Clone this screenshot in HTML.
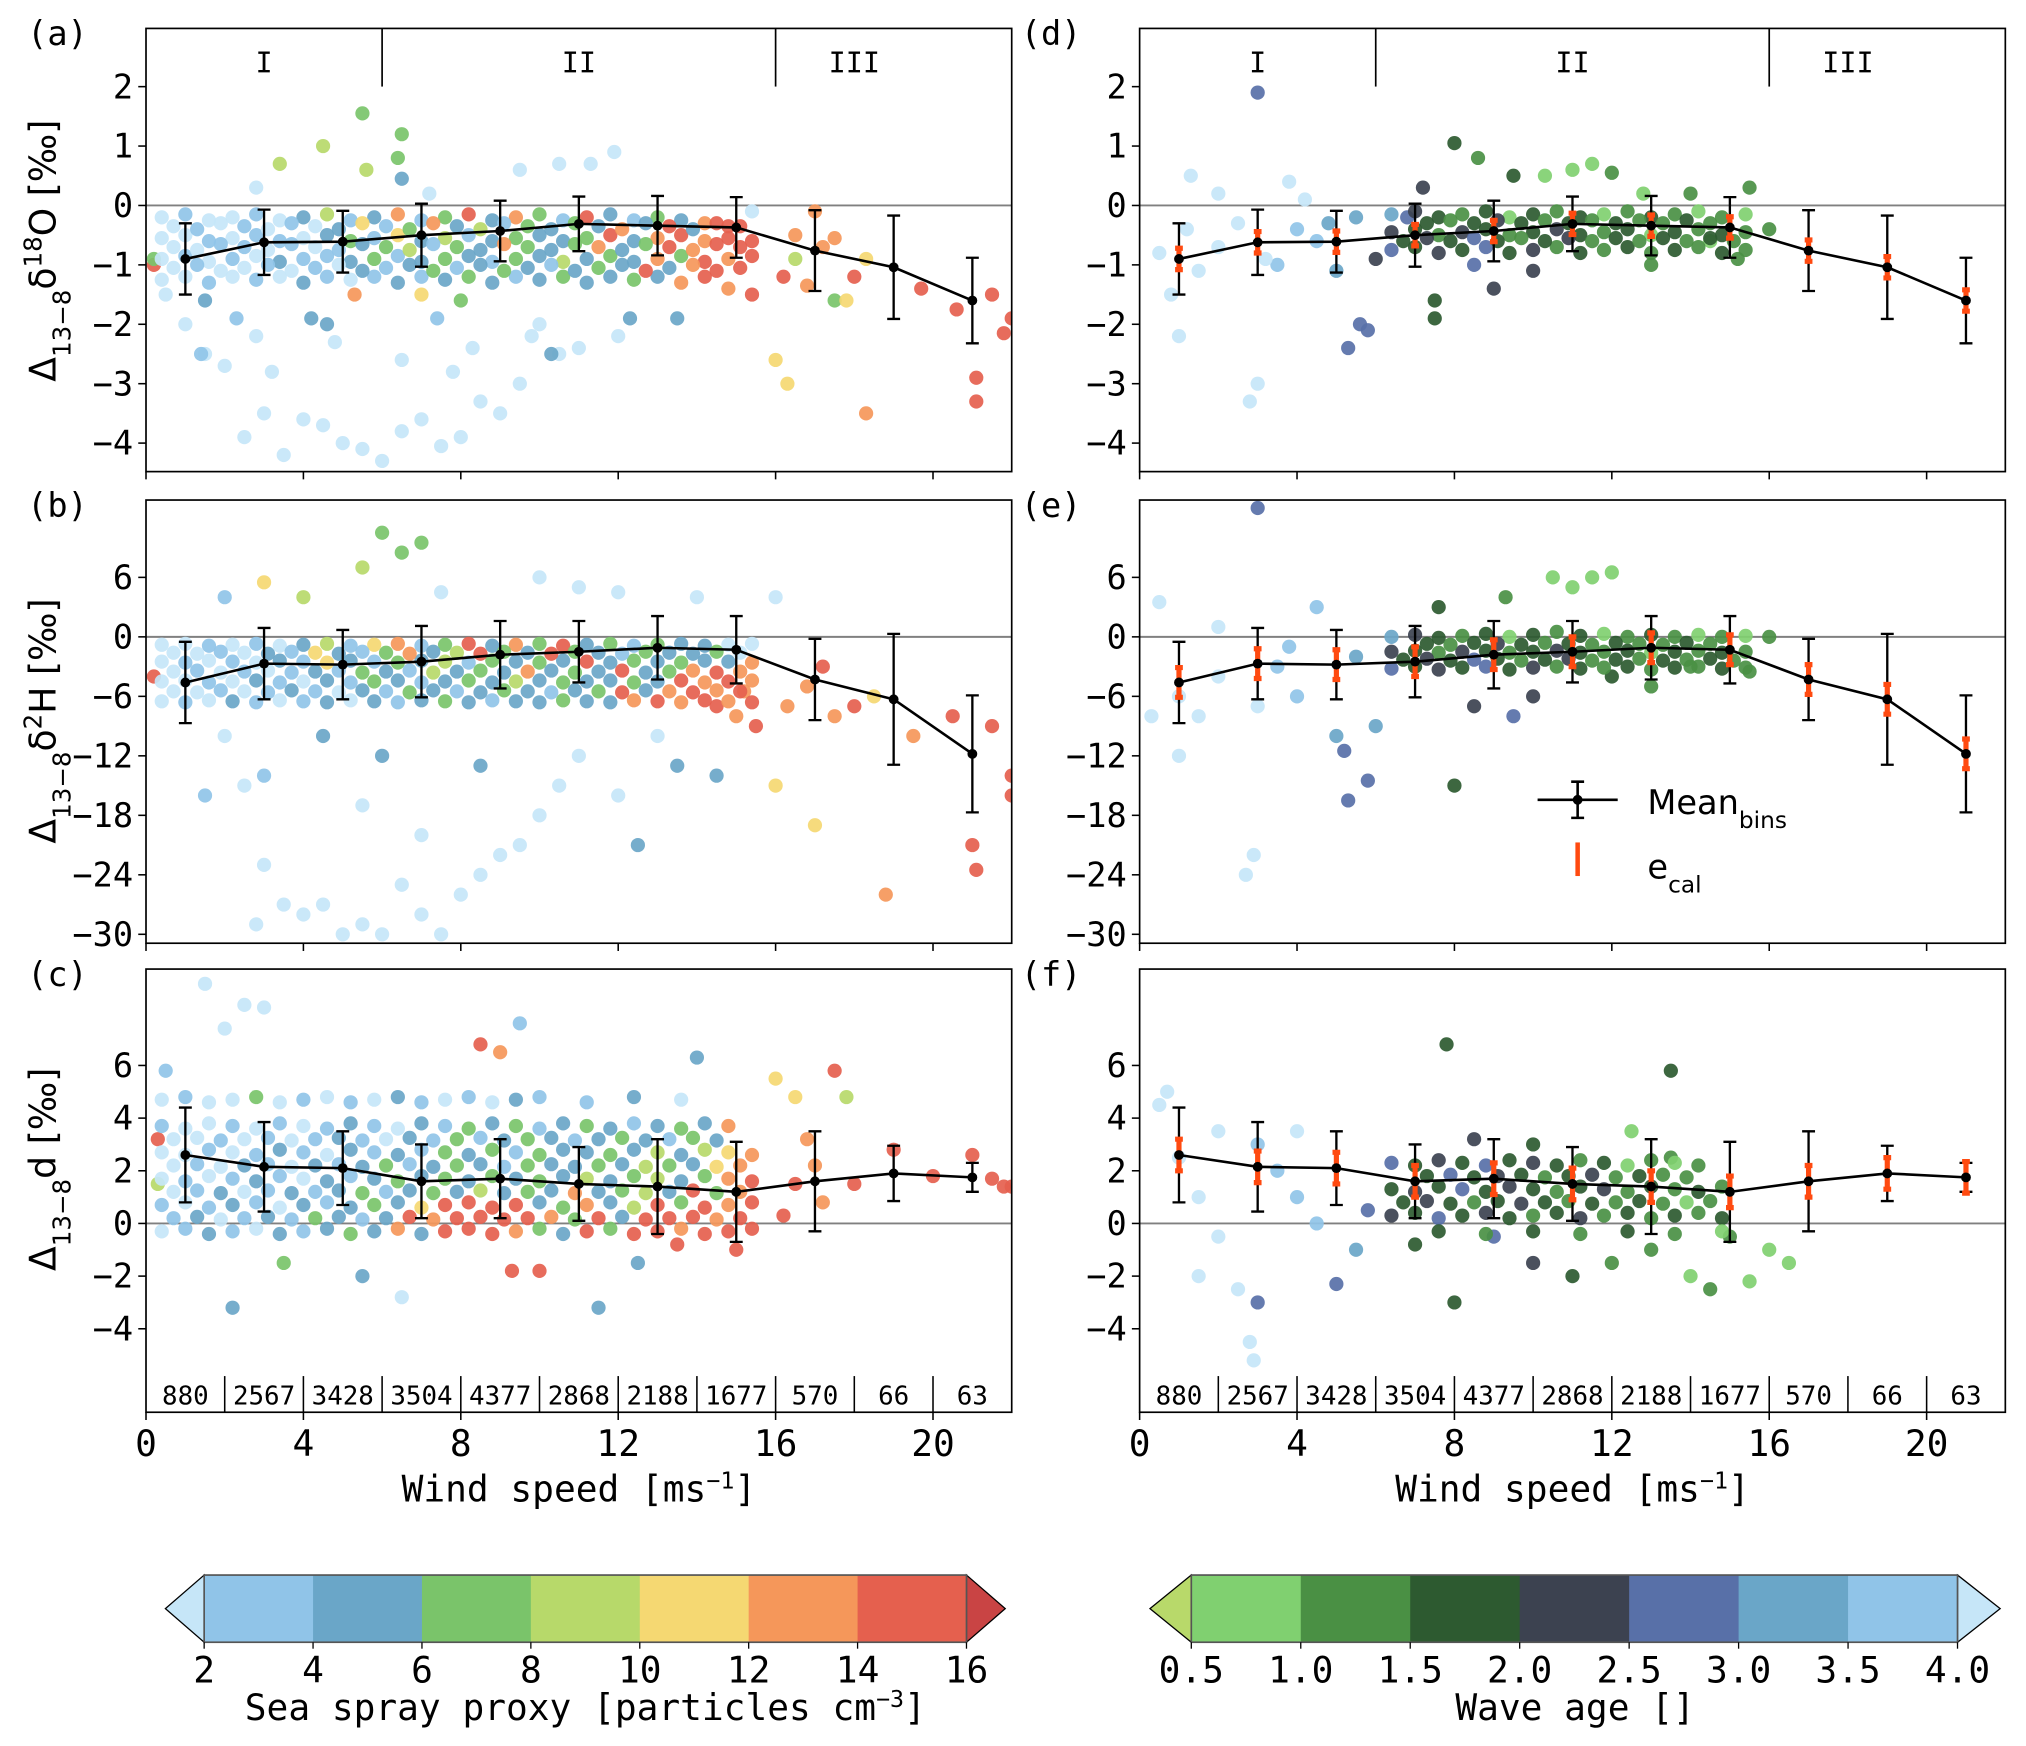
<!DOCTYPE html>
<html><head><meta charset="utf-8">
<style>
html,body{margin:0;padding:0;background:#fff;}
svg{display:block;}
text{font-family:"DejaVu Sans Mono","Liberation Mono",monospace;fill:#000;}
.sans{font-family:"DejaVu Sans","Liberation Sans",sans-serif;}
</style></head>
<body>
<svg id="fig" xmlns="http://www.w3.org/2000/svg" width="2026" height="1746" viewBox="0 0 1568 1351.3" preserveAspectRatio="none">
<rect width="1568" height="1351.3" fill="#fff"/>
</svg>
<script>
// ---------- data ----------
const xBins=[1,3,5,7,9,11,13,15,17,19,21];
const binCounts=[880,2567,3428,3504,4377,2868,2188,1677,570,66,63];
const o18Mean=[-0.9,-0.62,-0.61,-0.5,-0.43,-0.31,-0.34,-0.37,-0.76,-1.04,-1.6];
const o18Std=[0.6,0.55,0.52,0.53,0.51,0.46,0.5,0.51,0.68,0.87,0.72];
const o18Ecal=[0.18,0.18,0.18,0.18,0.18,0.18,0.18,0.18,0.18,0.18,0.18];
const h2Mean=[-4.6,-2.7,-2.8,-2.5,-1.8,-1.5,-1.1,-1.3,-4.3,-6.3,-11.8];
const h2Std=[4.1,3.6,3.5,3.6,3.4,3.1,3.2,3.4,4.1,6.6,5.9];
const h2Ecal=[1.5,1.5,1.5,1.5,1.5,1.5,1.5,1.5,1.5,1.5,1.5];
const dMean=[2.6,2.15,2.1,1.6,1.7,1.5,1.4,1.2,1.6,1.9,1.75];
const dStd=[1.8,1.7,1.4,1.4,1.5,1.4,1.8,1.9,1.9,1.05,0.55];
const dEcal=[0.6,0.6,0.6,0.6,0.6,0.6,0.6,0.6,0.6,0.6,0.6];
const sprayTicks=[2,4,6,8,10,12,14,16];
const waveTicks=["0.5","1.0","1.5","2.0","2.5","3.0","3.5","4.0"];
const xTicks=[0,4,8,12,16,20];
const o18Ticks=[2,1,0,-1,-2,-3,-4];
const h2Ticks=[6,0,-6,-12,-18,-24,-30];
const dTicks=[6,4,2,0,-2,-4];

// scatter points [wind, value, colour class]
const ptsA=[
[5.5,1.55,3],[6.5,1.2,3],[6.4,0.8,3],[5.6,0.6,4],[4.5,1.0,4],[3.4,0.7,4],[11.9,0.9,0],[11.3,0.7,0],[9.5,0.6,0],[10.5,0.7,0],[6.5,0.45,2],[2.8,0.3,0],[7.2,0.2,0],
[1.5,-2.5,0],[2,-2.7,0],[2.5,-3.9,0],[3,-3.5,0],[3.5,-4.2,0],[4,-3.6,0],[4.5,-3.7,0],[5,-4.0,0],[5.5,-4.1,0],[6,-4.3,0],[6.5,-3.8,0],[7,-3.6,0],[7.5,-4.05,0],[8,-3.9,0],[8.5,-3.3,0],[9,-3.5,0],[9.5,-3.0,0],[10,-2.0,0],[11,-2.4,0],[12,-2.2,0],[6.5,-2.6,0],[4.8,-2.3,0],[2.8,-2.2,0],[8.3,-2.4,0],[10.5,-2.5,0],[9.8,-2.2,0],[1,-2,0],[0.5,-1.5,0],[3.2,-2.8,0],[7.8,-2.8,0],
[1.5,-1.6,2],[2.3,-1.9,1],[4.2,-1.9,2],[4.6,-2.0,2],[7.4,-1.9,1],[12.3,-1.9,2],[13.5,-1.9,2],[10.3,-2.5,2],[1.4,-2.5,1],[8,-1.6,3],[7,-1.5,5],[5.3,-1.5,6],[16,-2.6,5],[16.3,-3.0,5],[18.3,-3.5,6],[21.1,-2.9,7],[21.1,-3.3,7],[20.6,-1.75,7],[21.5,-1.5,7],[22,-1.9,7],[21.8,-2.15,7],[19.7,-1.4,7],[18,-1.2,7],[17.2,-0.7,6],[17.5,-0.55,6],[18.3,-0.9,5],[17.5,-1.6,3],[17.8,-1.6,5],[16.8,-1.35,6],[17,-0.1,6],[16.5,-0.9,4],[16.2,-1.2,7],[16.5,-0.5,6],[0.2,-1.0,7],[0.2,-0.9,3],
[0.4,-1.25,0],[1.0,-1.2,0],[1.6,-1.3,1],[2.2,-1.2,0],[2.8,-1.25,1],[3.4,-1.2,0],[4.0,-1.3,2],[4.6,-1.2,1],[5.2,-1.25,0],[5.8,-1.2,1],[6.4,-1.3,2],[7.0,-1.2,1],[7.6,-1.25,2],[8.2,-1.2,3],[8.8,-1.3,2],[9.4,-1.2,1],[10.0,-1.25,2],[10.6,-1.2,3],[11.2,-1.3,2],[11.8,-1.2,2],[12.4,-1.25,3],[13.0,-1.2,2],[13.6,-1.3,6],[14.2,-1.2,7],[14.8,-1.4,6],[15.4,-1.5,7],
[0.4,-0.9,0],[1.0,-0.85,1],[1.6,-0.95,0],[2.2,-0.9,1],[2.8,-0.85,0],[3.4,-0.95,2],[4.0,-0.9,1],[4.6,-0.85,1],[5.2,-0.95,2],[5.8,-0.9,3],[6.4,-0.85,1],[7.0,-0.95,2],[7.6,-0.9,3],[8.2,-0.85,2],[8.8,-0.95,1],[9.4,-0.9,3],[10.0,-0.85,2],[10.6,-0.95,4],[11.2,-0.9,2],[11.8,-0.85,3],[12.4,-0.95,2],[13.0,-0.9,6],[13.6,-0.85,3],[14.2,-0.95,7],[14.8,-0.9,6],[15.4,-0.85,7],
[0.4,-0.55,0],[1.0,-0.5,0],[1.6,-0.6,1],[2.2,-0.55,0],[2.8,-0.5,1],[3.4,-0.6,1],[4.0,-0.55,0],[4.6,-0.5,2],[5.2,-0.6,3],[5.8,-0.55,1],[6.4,-0.5,5],[7.0,-0.6,2],[7.6,-0.55,4],[8.2,-0.5,1],[8.8,-0.6,2],[9.4,-0.55,3],[10.0,-0.5,2],[10.6,-0.6,2],[11.2,-0.55,3],[11.8,-0.5,7],[12.4,-0.6,2],[13.0,-0.55,6],[13.6,-0.5,7],[14.2,-0.6,6],[14.8,-0.55,7],[15.4,-0.6,7],
[0.4,-0.2,0],[1.0,-0.15,1],[1.6,-0.25,0],[2.2,-0.2,0],[2.8,-0.15,1],[3.4,-0.25,0],[4.0,-0.2,2],[4.6,-0.15,4],[5.2,-0.25,1],[5.8,-0.2,2],[6.4,-0.15,6],[7.0,-0.25,1],[7.6,-0.2,3],[8.2,-0.15,7],[8.8,-0.25,2],[9.4,-0.2,6],[10.0,-0.15,3],[10.6,-0.25,1],[11.2,-0.2,7],[11.8,-0.15,2],[12.4,-0.25,1],[13.0,-0.2,3],[13.6,-0.25,2],[14.2,-0.3,6],[14.8,-0.35,7],[15.4,-0.1,0],
[0.7,-1.05,0],[1.3,-1.0,1],[1.9,-1.1,0],[2.5,-1.05,0],[3.1,-1.0,1],[3.7,-1.1,0],[4.3,-1.05,1],[4.9,-1.0,0],[5.5,-1.1,2],[6.1,-1.05,1],[6.7,-1.0,2],[7.3,-1.1,3],[7.9,-1.05,1],[8.5,-1.0,2],[9.1,-1.1,3],[9.7,-1.05,2],[10.3,-1.0,1],[10.9,-1.1,2],[11.5,-1.05,3],[12.1,-1.0,2],[12.7,-1.1,7],[13.3,-1.05,2],[13.9,-1.0,6],[14.5,-1.1,7],[15.1,-1.05,7],
[0.7,-0.7,0],[1.3,-0.75,0],[1.9,-0.65,1],[2.5,-0.7,1],[3.1,-0.75,0],[3.7,-0.65,1],[4.3,-0.7,0],[4.9,-0.75,1],[5.5,-0.65,2],[6.1,-0.7,3],[6.7,-0.75,4],[7.3,-0.65,1],[7.9,-0.7,3],[8.5,-0.75,2],[9.1,-0.65,6],[9.7,-0.7,3],[10.3,-0.75,2],[10.9,-0.65,3],[11.5,-0.7,6],[12.1,-0.75,2],[12.7,-0.65,3],[13.3,-0.7,7],[13.9,-0.75,6],[14.5,-0.65,7],[15.1,-0.7,7],
[0.7,-0.35,0],[1.3,-0.4,1],[1.9,-0.3,0],[2.5,-0.35,1],[3.1,-0.4,0],[3.7,-0.3,1],[4.3,-0.35,0],[4.9,-0.4,2],[5.5,-0.3,5],[6.1,-0.35,1],[6.7,-0.4,3],[7.3,-0.3,6],[7.9,-0.35,2],[8.5,-0.4,4],[9.1,-0.3,1],[9.7,-0.35,3],[10.3,-0.4,2],[10.9,-0.3,3],[11.5,-0.35,2],[12.1,-0.4,6],[12.7,-0.3,2],[13.3,-0.35,7],[13.9,-0.4,2],[14.5,-0.3,7],[15.1,-0.35,7]
];
const ptsB=[
[6,10.5,3],[6.5,8.5,3],[7,9.5,3],[5.5,7,4],[3,5.5,5],[4,4,4],[10,6,0],[11,5,0],[12,4.5,0],[14,4,0],[16,4,0],[7.5,4.5,0],[2,4,1],
[2,-10,0],[2.5,-15,0],[3,-23,0],[3.5,-27,0],[4,-28,0],[4.5,-27,0],[5,-30,0],[5.5,-29,0],[6,-30,0],[6.5,-25,0],[7,-28,0],[7.5,-30,0],[8,-26,0],[8.5,-24,0],[9,-22,0],[9.5,-21,0],[10,-18,0],[10.5,-15,0],[11,-12,0],[12,-16,0],[13,-10,0],[7,-20,0],[5.5,-17,0],[2.8,-29,0],[1.5,-16,1],[3,-14,1],[6,-12,2],[8.5,-13,2],[12.5,-21,2],[13.5,-13,2],[14.5,-14,2],[4.5,-10,2],
[15,-8,6],[15.5,-9,7],[16,-15,5],[16.3,-7,6],[17,-19,5],[17.5,-8,6],[18,-7,7],[18.5,-6,5],[18.8,-26,6],[19.5,-10,6],[20.5,-8,7],[21,-21,7],[21.1,-23.5,7],[21.5,-9,7],[22,-16,7],[22,-14,7],[14.5,-7,7],[15.2,-5.5,6],[16.8,-5,6],[17.2,-3,7],[0.2,-4,7],
[0.4,-6.5,0],[1.0,-6.6,1],[1.6,-6.4,0],[2.2,-6.5,2],[2.8,-6.6,1],[3.4,-6.4,0],[4.0,-6.5,1],[4.6,-6.6,2],[5.2,-6.4,0],[5.8,-6.5,2],[6.4,-6.6,1],[7.0,-6.4,2],[7.6,-6.5,3],[8.2,-6.6,2],[8.8,-6.4,1],[9.4,-6.5,2],[10.0,-6.6,2],[10.6,-6.4,3],[11.2,-6.5,2],[11.8,-6.6,2],[12.4,-6.4,6],[13.0,-6.5,7],[13.6,-6.6,6],[14.2,-6.4,7],[14.8,-6.5,6],[15.4,-6.6,7],
[0.4,-4.5,0],[1.0,-4.4,0],[1.6,-4.6,1],[2.2,-4.5,0],[2.8,-4.4,2],[3.4,-4.6,1],[4.0,-4.5,0],[4.6,-4.4,2],[5.2,-4.6,1],[5.8,-4.5,3],[6.4,-4.4,2],[7.0,-4.6,1],[7.6,-4.5,2],[8.2,-4.4,3],[8.8,-4.6,2],[9.4,-4.5,4],[10.0,-4.4,2],[10.6,-4.6,3],[11.2,-4.5,2],[11.8,-4.4,2],[12.4,-4.6,3],[13.0,-4.5,2],[13.6,-4.4,7],[14.2,-4.6,6],[14.8,-4.5,7],[15.4,-4.4,6],
[0.4,-2.5,0],[1.0,-2.6,1],[1.6,-2.4,0],[2.2,-2.5,1],[2.8,-2.6,0],[3.4,-2.4,2],[4.0,-2.5,1],[4.6,-2.6,5],[5.2,-2.4,2],[5.8,-2.5,1],[6.4,-2.6,3],[7.0,-2.4,2],[7.6,-2.5,4],[8.2,-2.6,1],[8.8,-2.4,3],[9.4,-2.5,2],[10.0,-2.6,3],[10.6,-2.4,2],[11.2,-2.5,7],[11.8,-2.6,2],[12.4,-2.4,3],[13.0,-2.5,2],[13.6,-2.6,3],[14.2,-2.4,2],[14.8,-2.5,2],[15.4,-2.6,6],
[0.4,-0.8,0],[1.0,-0.7,0],[1.6,-0.9,1],[2.2,-0.8,0],[2.8,-0.7,1],[3.4,-0.9,0],[4.0,-0.8,2],[4.6,-0.7,4],[5.2,-0.9,1],[5.8,-0.8,5],[6.4,-0.7,6],[7.0,-0.9,1],[7.6,-0.8,3],[8.2,-0.7,7],[8.8,-0.9,2],[9.4,-0.8,6],[10.0,-0.7,3],[10.6,-0.9,7],[11.2,-0.8,2],[11.8,-0.7,3],[12.4,-0.9,1],[13.0,-0.8,3],[13.6,-0.7,2],[14.2,-0.9,2],[14.8,-0.8,0],[15.4,-0.7,0],
[0.7,-5.5,0],[1.3,-5.6,0],[1.9,-5.4,1],[2.5,-5.5,0],[3.1,-5.6,1],[3.7,-5.4,2],[4.3,-5.5,1],[4.9,-5.6,0],[5.5,-5.4,2],[6.1,-5.5,1],[6.7,-5.6,3],[7.3,-5.4,2],[7.9,-5.5,1],[8.5,-5.6,2],[9.1,-5.4,3],[9.7,-5.5,2],[10.3,-5.6,1],[10.9,-5.4,2],[11.5,-5.5,3],[12.1,-5.6,7],[12.7,-5.4,2],[13.3,-5.5,6],[13.9,-5.6,7],[14.5,-5.4,6],[15.1,-5.5,7],
[0.7,-3.5,0],[1.3,-3.4,1],[1.9,-3.6,0],[2.5,-3.5,1],[3.1,-3.4,0],[3.7,-3.6,1],[4.3,-3.5,2],[4.9,-3.4,1],[5.5,-3.6,3],[6.1,-3.5,2],[6.7,-3.4,1],[7.3,-3.6,4],[7.9,-3.5,2],[8.5,-3.4,3],[9.1,-3.6,2],[9.7,-3.5,6],[10.3,-3.4,2],[10.9,-3.6,3],[11.5,-3.5,2],[12.1,-3.4,7],[12.7,-3.6,2],[13.3,-3.5,3],[13.9,-3.4,6],[14.5,-3.6,7],[15.1,-3.5,6],
[0.7,-1.6,0],[1.3,-1.7,0],[1.9,-1.5,1],[2.5,-1.6,0],[3.1,-1.7,2],[3.7,-1.5,1],[4.3,-1.6,5],[4.9,-1.7,2],[5.5,-1.5,1],[6.1,-1.6,3],[6.7,-1.7,6],[7.3,-1.5,2],[7.9,-1.6,4],[8.5,-1.7,7],[9.1,-1.5,3],[9.7,-1.6,2],[10.3,-1.7,7],[10.9,-1.5,3],[11.5,-1.6,2],[12.1,-1.7,1],[12.7,-1.5,3],[13.3,-1.6,2],[13.9,-1.7,2],[14.5,-1.5,3],[15.1,-1.6,0]
];
const ptsC=[
[1.5,9.1,0],[2.5,8.3,0],[3,8.2,0],[2,7.4,0],[0.5,5.8,1],[9.5,7.6,1],[8.5,6.8,7],[9,6.5,6],[17.5,5.8,7],[16,5.5,5],[16.5,4.8,5],[14,6.3,2],[2.2,-3.2,2],[11.5,-3.2,2],[6.5,-2.8,0],[5.5,-2.0,2],[3.5,-1.5,3],[10,-1.8,7],[12.5,-1.5,2],[9.3,-1.8,7],[13.5,-0.8,7],[15,-1.0,7],[17.8,4.8,4],[0.3,3.2,7],[0.3,1.5,4],
[16.5,1.5,7],[17,2.2,6],[18,1.5,7],[19,2.8,7],[20,1.8,7],[21,2.6,7],[21.5,1.7,7],[22,1.4,7],[21.8,1.4,7],[17.2,0.8,6],[16.2,0.3,7],[16.8,3.2,6],
[0.4,-0.3,0],[1.0,-0.2,1],[1.6,-0.4,2],[2.2,-0.3,1],[2.8,-0.2,0],[3.4,-0.4,2],[4.0,-0.3,1],[4.6,-0.2,2],[5.2,-0.4,3],[5.8,-0.3,2],[6.4,-0.2,6],[7.0,-0.4,2],[7.6,-0.3,7],[8.2,-0.2,7],[8.8,-0.4,7],[9.4,-0.3,6],[10.0,-0.2,3],[10.6,-0.4,2],[11.2,-0.3,7],[11.8,-0.2,3],[12.4,-0.4,7],[13.0,-0.3,7],[13.6,-0.2,6],[14.2,-0.4,7],[14.8,-0.3,7],[15.4,-0.2,7],
[0.4,0.7,1],[1.0,0.8,0],[1.6,0.6,1],[2.2,0.7,2],[2.8,0.8,1],[3.4,0.6,0],[4.0,0.7,2],[4.6,0.8,1],[5.2,0.6,2],[5.8,0.7,3],[6.4,0.8,2],[7.0,0.6,5],[7.6,0.7,7],[8.2,0.8,7],[8.8,0.6,7],[9.4,0.7,7],[10.0,0.8,2],[10.6,0.6,3],[11.2,0.7,6],[11.8,0.8,2],[12.4,0.6,4],[13.0,0.7,7],[13.6,0.8,3],[14.2,0.6,7],[14.8,0.7,6],[15.4,0.8,7],
[0.4,1.7,0],[1.0,1.6,1],[1.6,1.8,0],[2.2,1.7,1],[2.8,1.6,2],[3.4,1.8,1],[4.0,1.7,0],[4.6,1.6,2],[5.2,1.8,1],[5.8,1.7,2],[6.4,1.6,3],[7.0,1.8,2],[7.6,1.7,3],[8.2,1.6,2],[8.8,1.8,3],[9.4,1.7,2],[10.0,1.6,3],[10.6,1.8,2],[11.2,1.7,4],[11.8,1.6,2],[12.4,1.8,3],[13.0,1.7,4],[13.6,1.6,2],[14.2,1.8,3],[14.8,1.7,6],[15.4,1.6,7],
[0.4,2.7,0],[1.0,2.6,0],[1.6,2.8,1],[2.2,2.7,0],[2.8,2.6,1],[3.4,2.8,2],[4.0,2.7,1],[4.6,2.6,0],[5.2,2.8,2],[5.8,2.7,1],[6.4,2.6,2],[7.0,2.8,1],[7.6,2.7,3],[8.2,2.6,2],[8.8,2.8,3],[9.4,2.7,1],[10.0,2.6,3],[10.6,2.8,2],[11.2,2.7,2],[11.8,2.6,3],[12.4,2.8,2],[13.0,2.7,4],[13.6,2.6,2],[14.2,2.8,4],[14.8,2.7,5],[15.4,2.6,6],
[0.4,3.7,1],[1.0,3.6,0],[1.6,3.8,0],[2.2,3.7,1],[2.8,3.6,0],[3.4,3.8,1],[4.0,3.7,0],[4.6,3.6,1],[5.2,3.8,2],[5.8,3.7,1],[6.4,3.6,0],[7.0,3.8,2],[7.6,3.7,1],[8.2,3.6,3],[8.8,3.8,2],[9.4,3.7,3],[10.0,3.6,1],[10.6,3.8,2],[11.2,3.7,3],[11.8,3.6,2],[12.4,3.8,1],[13.0,3.7,2],[13.6,3.6,3],[14.2,3.8,2],[14.8,3.7,6],
[0.4,4.7,0],[1.0,4.8,1],[1.6,4.6,0],[2.2,4.7,0],[2.8,4.8,3],[3.4,4.6,0],[4.0,4.7,1],[4.6,4.8,0],[5.2,4.6,1],[5.8,4.7,0],[6.4,4.8,2],[7.0,4.6,1],[7.6,4.7,0],[8.2,4.8,1],[8.8,4.6,0],[9.4,4.7,2],[10.0,4.8,1],[11.2,4.6,1],[12.4,4.8,2],[13.6,4.7,0],
[0.7,0.2,1],[1.3,0.25,2],[1.9,0.15,0],[2.5,0.2,1],[3.1,0.25,2],[3.7,0.15,1],[4.3,0.2,3],[4.9,0.25,2],[5.5,0.15,1],[6.1,0.2,2],[6.7,0.25,7],[7.3,0.15,6],[7.9,0.2,7],[8.5,0.25,7],[9.1,0.15,7],[9.7,0.2,7],[10.3,0.25,6],[10.9,0.15,3],[11.5,0.2,7],[12.1,0.25,2],[12.7,0.15,7],[13.3,0.2,7],[13.9,0.25,7],[14.5,0.15,6],[15.1,0.2,7],
[0.7,1.2,0],[1.3,1.25,1],[1.9,1.15,2],[2.5,1.2,0],[3.1,1.25,1],[3.7,1.15,2],[4.3,1.2,1],[4.9,1.25,2],[5.5,1.15,3],[6.1,1.2,1],[6.7,1.25,2],[7.3,1.15,3],[7.9,1.2,2],[8.5,1.25,4],[9.1,1.15,2],[9.7,1.2,3],[10.3,1.25,2],[10.9,1.15,6],[11.5,1.2,2],[12.1,1.25,3],[12.7,1.15,4],[13.3,1.2,2],[13.9,1.25,7],[14.5,1.15,3],[15.1,1.2,6],
[0.7,2.2,0],[1.3,2.25,1],[1.9,2.15,0],[2.5,2.2,2],[3.1,2.25,1],[3.7,2.15,0],[4.3,2.2,2],[4.9,2.25,1],[5.5,2.15,2],[6.1,2.2,3],[6.7,2.25,1],[7.3,2.15,2],[7.9,2.2,3],[8.5,2.25,2],[9.1,2.15,1],[9.7,2.2,3],[10.3,2.25,2],[10.9,2.15,2],[11.5,2.2,3],[12.1,2.25,2],[12.7,2.15,4],[13.3,2.2,3],[13.9,2.25,2],[14.5,2.15,5],[15.1,2.2,6],
[0.7,3.2,0],[1.3,3.25,0],[1.9,3.15,1],[2.5,3.2,0],[3.1,3.25,1],[3.7,3.15,0],[4.3,3.2,1],[4.9,3.25,2],[5.5,3.15,1],[6.1,3.2,0],[6.7,3.25,2],[7.3,3.15,1],[7.9,3.2,3],[8.5,3.25,1],[9.1,3.15,2],[9.7,3.2,3],[10.3,3.25,2],[10.9,3.15,1],[11.5,3.2,2],[12.1,3.25,3],[12.7,3.15,2],[13.3,3.2,1],[13.9,3.25,3],[14.5,3.15,2]
];
const ptsD=[
[0.5,-0.8,8],[0.8,-1.5,8],[1,-2.2,8],[1.3,0.5,8],[1.5,-1.1,8],[2,-0.7,8],[2.5,-0.3,8],[2.8,-3.3,8],[3,-3.0,8],[3,1.9,5],[3.5,-1,7],[4,-0.4,7],[4.5,-0.6,7],[5,-1.1,6],[5.3,-2.4,5],[5.6,-2.0,5],[5.8,-2.1,5],[4.2,0.1,8],[5.5,-0.2,6],[6,-0.9,4],[3.8,0.4,8],[2,0.2,8],[1.2,-0.4,8],[3.2,-0.9,8],[4.8,-0.3,6],
[8,1.05,3],[8.6,0.8,2],[10.3,0.5,1],[11,0.6,1],[11.5,0.7,1],[12,0.55,2],[7.5,-1.6,3],[7.5,-1.9,3],[9,-1.4,4],[13,-1.0,2],[14,0.2,2],[15.5,0.3,2],[16,-0.4,2],[15.2,-0.9,2],[9.5,0.5,3],[7.2,0.3,4],[6.8,-0.2,5],[12.8,0.2,1],[14.5,-0.6,1],[10,-1.1,4],[8.5,-1.0,5],
[6.4,-0.75,5],[7.0,-0.7,3],[7.6,-0.8,4],[8.2,-0.75,3],[8.8,-0.7,5],[9.4,-0.8,3],[10.0,-0.75,4],[10.6,-0.7,2],[11.2,-0.8,3],[11.8,-0.75,2],[12.4,-0.7,3],[13.0,-0.8,2],[13.6,-0.75,3],[14.2,-0.7,2],[14.8,-0.8,3],[15.4,-0.75,2],
[6.4,-0.45,4],[7.0,-0.4,3],[7.6,-0.5,2],[8.2,-0.45,4],[8.8,-0.4,3],[9.4,-0.5,2],[10.0,-0.45,3],[10.6,-0.4,4],[11.2,-0.5,3],[11.8,-0.45,2],[12.4,-0.4,3],[13.0,-0.5,1],[13.6,-0.45,3],[14.2,-0.4,2],[14.8,-0.5,3],[15.4,-0.45,2],
[6.4,-0.15,6],[7.0,-0.1,4],[7.6,-0.2,3],[8.2,-0.15,2],[8.8,-0.1,3],[9.4,-0.2,1],[10.0,-0.15,3],[10.6,-0.1,2],[11.2,-0.2,3],[11.8,-0.15,1],[12.4,-0.1,2],[13.0,-0.2,3],[13.6,-0.15,2],[14.2,-0.1,1],[14.8,-0.2,2],[15.4,-0.15,1],
[6.7,-0.6,3],[7.3,-0.55,4],[7.9,-0.6,3],[8.5,-0.55,5],[9.1,-0.6,3],[9.7,-0.55,2],[10.3,-0.6,3],[10.9,-0.55,4],[11.5,-0.6,2],[12.1,-0.55,3],[12.7,-0.6,2],[13.3,-0.55,3],[13.9,-0.6,2],[14.5,-0.55,3],[15.1,-0.6,2],
[7.3,-0.3,3],[7.9,-0.25,2],[8.5,-0.3,3],[9.1,-0.25,4],[9.7,-0.3,3],[10.3,-0.25,2],[10.9,-0.3,3],[11.5,-0.25,2],[12.1,-0.3,3],[12.7,-0.25,2],[13.3,-0.3,2],[13.9,-0.25,3],[14.5,-0.3,2]
];
const ptsE=[
[1,-6,8],[0.5,3.5,8],[1,-12,8],[1.5,-8,8],[2.7,-24,8],[2.9,-22,8],[3,13,5],[3,-7,8],[3.5,-3,7],[4.5,3,7],[5,-10,6],[5.2,-11.5,5],[5.3,-16.5,5],[5.8,-14.5,5],[6,-9,6],[4,-6,7],[2,-4,8],[8,-15,3],[7.6,3,3],[9.3,4,2],[10.5,6,1],[11,5,1],[11.5,6,1],[12,6.5,1],[8.5,-7,4],[9.5,-8,5],[13,-5,2],[14,-3,2],[15.5,-3.5,2],[16,0,2],[10,-6,4],[12,-4,3],[2,1,8],[3.8,-1,7],[5.5,-2,6],[0.3,-8,8],
[6.4,-3.2,5],[7.0,-3,3],[7.6,-3.3,4],[8.2,-3.1,3],[8.8,-3,5],[9.4,-3.3,3],[10.0,-3.1,4],[10.6,-3,2],[11.2,-3.2,3],[11.8,-3.1,2],[12.4,-3,3],[13.0,-3.3,2],[13.6,-3.1,3],[14.2,-3,2],[14.8,-3.2,3],[15.4,-3.1,2],
[6.4,-1.5,4],[7.0,-1.4,3],[7.6,-1.6,2],[8.2,-1.5,4],[8.8,-1.4,3],[9.4,-1.6,2],[10.0,-1.5,3],[10.6,-1.4,4],[11.2,-1.6,3],[11.8,-1.5,2],[12.4,-1.4,3],[13.0,-1.6,1],[13.6,-1.5,3],[14.2,-1.4,2],[14.8,-1.6,3],[15.4,-1.5,2],
[6.4,0,6],[7.0,0.2,4],[7.6,-0.1,3],[8.2,0.1,2],[8.8,0.3,3],[9.4,0,1],[10.0,0.2,3],[10.6,0.5,2],[11.2,0.1,3],[11.8,0.3,1],[12.4,0,2],[13.0,0.2,3],[13.6,0,2],[14.2,0.2,1],[14.8,0,2],[15.4,0.1,1],
[6.7,-2.3,3],[7.3,-2.2,4],[7.9,-2.4,3],[8.5,-2.3,5],[9.1,-2.2,3],[9.7,-2.4,2],[10.3,-2.3,3],[10.9,-2.2,4],[11.5,-2.4,2],[12.1,-2.3,3],[12.7,-2.2,2],[13.3,-2.4,3],[13.9,-2.3,2],[14.5,-2.2,3],[15.1,-2.4,2],
[7.3,-0.7,3],[7.9,-0.8,2],[8.5,-0.6,3],[9.1,-0.7,4],[9.7,-0.8,3],[10.3,-0.6,2],[10.9,-0.7,3],[11.5,-0.8,2],[12.1,-0.6,3],[12.7,-0.7,2],[13.3,-0.8,2],[13.9,-0.6,3],[14.5,-0.7,2]
];
const ptsF=[
[0.5,4.5,8],[0.7,5,8],[1,2.5,8],[1.5,-2,8],[2,-0.5,8],[2.5,-2.5,8],[2.8,-4.5,8],[2.9,-5.2,8],[3,-3,5],[3,3,7],[4,1,7],[4.5,0,7],[5,-2.3,5],[5.5,-1,6],[4,3.5,8],[7.8,6.8,3],[13.5,5.8,3],[8,-3,3],[9,-0.5,5],[10,-1.5,4],[11,-2,3],[12,-1.5,2],[13,-1,2],[14,-2,1],[14.5,-2.5,2],[15.5,-2.2,1],[16,-1,1],[16.5,-1.5,1],[15,-0.5,2],[12.5,3.5,1],[8.5,3.2,4],[13.5,2.5,2],[10,3,3],[7,-0.8,3],[1.5,1,8],[2,3.5,8],[5.8,0.5,5],[3.5,2,7],
[6.4,0.3,4],[7.0,0.4,3],[7.6,0.2,5],[8.2,0.3,3],[8.8,0.4,4],[9.4,0.2,3],[10.0,0.3,2],[10.6,0.4,3],[11.2,0.2,4],[11.8,0.3,2],[12.4,0.4,3],[13.0,0.2,2],[13.6,0.3,3],[14.2,0.4,2],[14.8,0.2,3],
[6.4,1.3,3],[7.0,1.2,4],[7.6,1.4,3],[8.2,1.3,5],[8.8,1.2,3],[9.4,1.4,4],[10.0,1.3,3],[10.6,1.2,2],[11.2,1.4,3],[11.8,1.3,4],[12.4,1.2,2],[13.0,1.4,3],[13.6,1.3,2],[14.2,1.2,3],[14.8,1.4,2],
[6.4,2.3,5],[7.0,2.2,3],[7.6,2.4,4],[8.2,2.3,3],[8.8,2.2,5],[9.4,2.4,3],[10.0,2.3,4],[10.6,2.2,3],[11.2,2.4,2],[11.8,2.3,3],[12.4,2.2,1],[13.0,2.4,2],[13.6,2.3,1],[14.2,2.2,2],
[6.7,0.8,3],[7.3,0.85,4],[7.9,0.75,3],[8.5,0.8,2],[9.1,0.85,3],[9.7,0.75,4],[10.3,0.8,3],[10.9,0.85,2],[11.5,0.75,3],[12.1,0.8,2],[12.7,0.85,3],[13.3,0.75,2],[13.9,0.8,1],[14.5,0.85,2],
[7.3,1.8,3],[7.9,1.85,5],[8.5,1.75,3],[9.1,1.8,4],[9.7,1.85,3],[10.3,1.75,2],[10.9,1.8,3],[11.5,1.85,4],[12.1,1.75,2],[12.7,1.8,3],[13.3,1.85,2],[13.9,1.75,2],
[7.6,-0.3,3],[8.8,-0.4,2],[10.0,-0.3,3],[11.2,-0.4,2],[12.4,-0.3,3],[13.6,-0.4,2],[14.8,-0.3,1]
];
const sprayColors=['#c6e6f8','#90c4e8','#6aa6c8','#7ac46a','#b7d96a','#f5d872','#f5975a','#e5604e','#c94444'];
const waveColors=['#b8d96a','#80d070','#4a9044','#2d5a30','#3c4250','#5870a8','#6aa6c8','#90c4e8','#c6e6f8'];

// ---------- drawing ----------
const NS='http://www.w3.org/2000/svg';
const svg=document.getElementById('fig');
function el(tag,attrs,parent,txt){const e=document.createElementNS(NS,tag);for(const k in attrs)e.setAttribute(k,attrs[k]);if(txt!==undefined)e.textContent=txt;(parent||svg).appendChild(e);return e;}

function panel(opt){
  const L=opt.left,R=opt.left+670,T=opt.top,B=opt.top+343;
  const g=el('g',{});
  
  
  const sx=v=>L+(v-0)/(22-0)*(R-L);
  const sy=v=>T+(opt.ymax-v)/(opt.ymax-opt.ymin)*(B-T);
  const clip='clip-'+opt.name;
  const cp=el('clipPath',{id:clip},g);el('rect',{x:L,y:T,width:R-L,height:B-T},cp);
  const z=el('line',{x1:L,x2:R,y1:sy(0),y2:sy(0),stroke:'#808080','stroke-width':1.5},g);
  
  
  const sg=el('g',{'clip-path':'url(#'+clip+')'},g);
  
  
  opt.pts.forEach(p=>{
    const c=el('circle',{cx:sx(p[0]),cy:sy(p[1]),r:5.5,fill:opt.colors[p[2]],'fill-opacity':0.92},sg);
    
    
  });
  const pts=xBins.map((x,i)=>sx(x)+','+sy(opt.mean[i])).join(' ');
  const ml=el('polyline',{points:pts,fill:'none',stroke:'#000','stroke-width':2},g);
  
  
  xBins.forEach((x,i)=>{
    const X=sx(x),y1=sy(opt.mean[i]+opt.std[i]),y2=sy(opt.mean[i]-opt.std[i]);
    const eb=el('path',{d:`M${X},${y1}V${y2}M${X-5},${y1}H${X+5}M${X-5},${y2}H${X+5}`,stroke:'#000','stroke-width':1.8,fill:'none'},g);
    
    
    if(opt.ecal){
      const e1=sy(opt.mean[i]+opt.ecal[i]),e2=sy(opt.mean[i]-opt.ecal[i]);
      const oe=el('path',{d:`M${X},${e1}V${e2}M${X-3},${e1}H${X+3}M${X-3},${e2}H${X+3}`,stroke:'#ff4a10','stroke-width':4,fill:'none'},g);
      
      
    }
    const m=el('circle',{cx:X,cy:sy(opt.mean[i]),r:3.8,fill:'#000'},g);
    
    
  });
  if(opt.regimes){
    [6,16].forEach(v=>{const l=el('line',{x1:sx(v),x2:sx(v),y1:T,y2:T+45,stroke:'#000','stroke-width':1.3},g);
      
      });
    [['I',3],['II',11],['III',18]].forEach(r=>{const t=el('text',{x:sx(r[1]),y:T+34,'font-size':22,'text-anchor':'middle'},g,r[0]);
      
      });
  }
  if(opt.counts){
    for(let v=2;v<=20;v+=2){const l=el('line',{x1:sx(v),x2:sx(v),y1:B-28,y2:B,stroke:'#000','stroke-width':1.2},g);
      
      }
    binCounts.forEach((n,i)=>{const t=el('text',{x:sx(xBins[i]),y:B-6,'font-size':20,'text-anchor':'middle'},g,String(n));
      
      });
  }
  const fr=el('rect',{x:L,y:T,width:R-L,height:B-T,fill:'none',stroke:'#000','stroke-width':1.3},g);
  
  
  opt.yticks.forEach(v=>{
    el('line',{x1:L-6,x2:L,y1:sy(v),y2:sy(v),stroke:'#000','stroke-width':1.2},g);
    const t=el('text',{x:L-10,y:sy(v)+9,'font-size':26,'text-anchor':'end'},g,String(v).replace('-','\u2212'));
    
    
  });
  xTicks.forEach(v=>{
    el('line',{x1:sx(v),x2:sx(v),y1:B,y2:B+6,stroke:'#000','stroke-width':1.2},g);
    if(opt.xlabels){const t=el('text',{x:sx(v),y:B+34,'font-size':28,'text-anchor':'middle'},g,String(v));
      
      }
  });
  if(opt.xlabels){
    const t=el('text',{x:(L+R)/2,y:B+69,'font-size':28,'text-anchor':'middle'},g);
    
    
    t.appendChild(document.createTextNode('Wind speed [ms'));
    el('tspan',{'baseline-shift':'super','font-size':18},t,'\u22121');
    t.appendChild(document.createTextNode(']'));
  }
  const pl=el('text',{x:L-92,y:T+13,'font-size':26},g,opt.letter);
  
  
  if(opt.ylabel){
    const t=el('text',{x:0,y:0,'font-size':28,'text-anchor':'middle',class:'sans',transform:`translate(43,${opt.ylabelY}) rotate(-90)`},g);
    
    
    t.appendChild(document.createTextNode('\u0394'));
    el('tspan',{'baseline-shift':'sub','font-size':19},t,'13\u22128');
    opt.ylabel.forEach(s=>{ if(s[0]==='^'){el('tspan',{'baseline-shift':'super','font-size':19},t,s.slice(1));} else t.appendChild(document.createTextNode(s)); });
  }
}
panel({name:'panel-a',letter:'(a)',left:113,top:22,ymin:-4.48,ymax:2.98,pts:ptsA,colors:sprayColors,mean:o18Mean,std:o18Std,yticks:o18Ticks,regimes:true,ylabel:['\u03B4','^18','O  [\u2030]'],ylabelY:194});
panel({name:'panel-b',letter:'(b)',left:113,top:387,ymin:-30.9,ymax:13.8,pts:ptsB,colors:sprayColors,mean:h2Mean,std:h2Std,yticks:h2Ticks,ylabel:['\u03B4','^2','H  [\u2030]'],ylabelY:558});
panel({name:'panel-c',letter:'(c)',left:113,top:750,ymin:-7.17,ymax:9.66,pts:ptsC,colors:sprayColors,mean:dMean,std:dStd,yticks:dTicks,counts:true,xlabels:true,ylabel:['d  [\u2030]'],ylabelY:905});
panel({name:'panel-d',letter:'(d)',left:882,top:22,ymin:-4.48,ymax:2.98,pts:ptsD,colors:waveColors,mean:o18Mean,std:o18Std,ecal:o18Ecal,yticks:o18Ticks,regimes:true});
panel({name:'panel-e',letter:'(e)',left:882,top:387,ymin:-30.9,ymax:13.8,pts:ptsE,colors:waveColors,mean:h2Mean,std:h2Std,ecal:h2Ecal,yticks:h2Ticks});
panel({name:'panel-f',letter:'(f)',left:882,top:750,ymin:-7.17,ymax:9.66,pts:ptsF,colors:waveColors,mean:dMean,std:dStd,ecal:dEcal,yticks:dTicks,counts:true,xlabels:true});

// legend in panel e
const lg=el('g',{});


el('path',{d:'M1190,619H1252M1221,605V633M1216,605H1226M1216,633H1226',stroke:'#000','stroke-width':2,fill:'none'},lg);
el('circle',{cx:1221,cy:619,r:3.8,fill:'#000'},lg);
const lt1=el('text',{x:1275,y:630,'font-size':26,class:'sans'},lg,'Mean');
el('tspan',{'baseline-shift':'sub','font-size':18},lt1,'bins');
el('path',{d:'M1221,652V678',stroke:'#ff4a10','stroke-width':3.5,fill:'none'},lg);
const lt2=el('text',{x:1275,y:680,'font-size':26,class:'sans'},lg,'e');
el('tspan',{'baseline-shift':'sub','font-size':18},lt2,'cal');

// colorbars
function colorbar(name,x0,x1,tipL,tipR,colors,ticks,title){
  const g=el('g',{});
  
  
  const T=1219,B=1271,M=1245,n=colors.length-2,w=(x1-x0)/n;
  el('polygon',{points:`${x0},${T} ${tipL},${M} ${x0},${B}`,fill:colors[0],stroke:'#000','stroke-width':1},g);
  el('polygon',{points:`${x1},${T} ${tipR},${M} ${x1},${B}`,fill:colors[colors.length-1],stroke:'#000','stroke-width':1},g);
  for(let i=0;i<n;i++){const r=el('rect',{x:x0+i*w,y:T,width:w+0.5,height:B-T,fill:colors[i+1]},g);
    
    }
  el('rect',{x:x0,y:T,width:x1-x0,height:B-T,fill:'none',stroke:'#555','stroke-width':1.3},g);
  ticks.forEach((v,i)=>{const X=x0+i*w;el('line',{x1:X,x2:X,y1:B,y2:B+5,stroke:'#000'},g);
    const t=el('text',{x:X,y:B+31,'font-size':28,'text-anchor':'middle'},g,String(v));
    
    });
  const tt=el('text',{x:(tipL+tipR)/2,y:1331,'font-size':28,'text-anchor':'middle'},g);
  
  
  title.forEach(s=>{ if(s[0]==='^') el('tspan',{'baseline-shift':'super','font-size':18},tt,s.slice(1)); else tt.appendChild(document.createTextNode(s)); });
}
colorbar('sea-spray-colorbar',158,748,128,778,sprayColors,sprayTicks,['Sea spray proxy [particles cm','^\u22123',']']);
colorbar('wave-age-colorbar',922,1515,890,1548,waveColors,waveTicks,['Wave age []']);
</script>
</body></html>
